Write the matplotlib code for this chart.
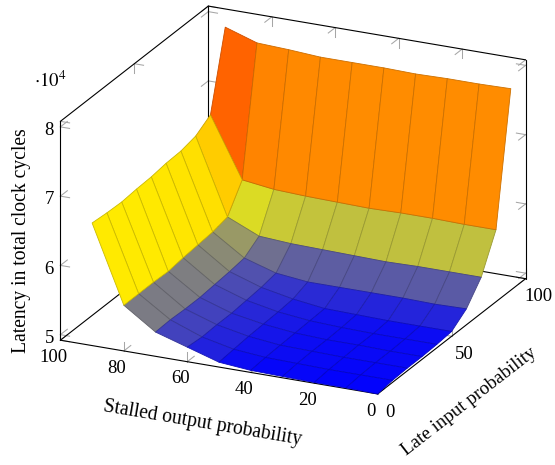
import numpy as np
import matplotlib
matplotlib.use("Agg")
import matplotlib.pyplot as plt
from matplotlib.colors import LinearSegmentedColormap, Normalize
from mpl_toolkits.mplot3d import proj3d

plt.rcParams['font.family'] = ['Liberation Serif', 'DejaVu Serif']
plt.rcParams['mathtext.fontset'] = 'stix'

stalled_output = [0, 10, 20, 30, 40, 50, 60, 70, 80, 90]
late_input = [0, 10, 20, 30, 40, 50, 60, 70, 80, 90]

# one row per late input probability, in units of 10^4 cycles
latency_y00 = [4.92, 4.93, 4.93, 4.94, 4.95, 4.99, 5.13, 5.27, 5.58, 6.69]
latency_y10 = [4.95, 4.95, 4.95, 4.96, 4.97, 5.01, 5.11, 5.28, 5.58, 6.67]
latency_y20 = [4.96, 4.96, 4.96, 4.97, 4.98, 5.03, 5.12, 5.27, 5.58, 6.66]
latency_y30 = [4.96, 4.96, 4.97, 4.97, 4.99, 5.04, 5.12, 5.27, 5.57, 6.68]
latency_y40 = [4.97, 4.97, 4.97, 4.98, 5.00, 5.05, 5.14, 5.29, 5.60, 6.69]
latency_y50 = [4.99, 4.99, 4.99, 5.00, 5.01, 5.07, 5.16, 5.31, 5.62, 6.72]
latency_y60 = [5.15, 5.14, 5.15, 5.15, 5.15, 5.15, 5.20, 5.34, 5.64, 6.73]
latency_y70 = [5.44, 5.44, 5.44, 5.43, 5.44, 5.45, 5.46, 5.49, 5.69, 6.78]
latency_y80 = [5.96, 5.96, 5.97, 5.97, 5.96, 5.97, 5.98, 6.00, 6.06, 6.92]
latency_y90 = [7.83, 7.82, 7.82, 7.81, 7.82, 7.82, 7.82, 7.85, 7.87, 8.02]

x_ticks = [0, 20, 40, 60, 80, 100]
y_ticks = [0, 50, 100]
z_ticks = [5, 6, 7, 8]

x_min, x_max = 0, 100
y_min, y_max = 0, 100
z_min, z_max = 4.92, 8.08

hot = LinearSegmentedColormap.from_list(
    'hot_pgf', [(0, 0, 1), (1, 1, 0), (1, 0.5, 0), (1, 0, 0)])

Z = np.array([latency_y00, latency_y10, latency_y20, latency_y30, latency_y40,
              latency_y50, latency_y60, latency_y70, latency_y80, latency_y90])
X, Y = np.meshgrid(stalled_output, late_input)

# facet colour comes from the mean of the four corners
norm = Normalize(Z.min(), Z.max())
cell_mean = (Z[:-1, :-1] + Z[1:, :-1] + Z[:-1, 1:] + Z[1:, 1:]) / 4
face = np.zeros(Z.shape + (4,))
face[:-1, :-1] = hot(norm(cell_mean))
edge = face[:-1, :-1].reshape(-1, 4).copy()
edge[:, :3] *= 0.8

fig = plt.figure(figsize=(5.55, 4.65), dpi=100)
ax = fig.add_axes([9.2 / 555, 26.2 / 465, 1, 1], projection='3d',
                  proj_type='ortho', computed_zorder=False)
ax.view_init(elev=21.3, azim=-65)
ax.set_box_aspect((1, 1, 0.671), zoom=1.144)
ax.set_axis_off()

surf = ax.plot_surface(X, Y, Z, facecolors=face, rstride=1, cstride=1,
                       shade=False, linewidth=0.6, antialiased=True, zorder=3)
surf.set_edgecolors(edge)

# box edges
box_lines = [
    ((x_max, x_min), (y_min, y_min), (z_min, z_min)),
    ((x_min, x_min), (y_min, y_max), (z_min, z_min)),
    ((x_max, x_max), (y_min, y_max), (z_min, z_min)),
    ((x_max, x_min), (y_max, y_max), (z_min, z_min)),
    ((x_max, x_max), (y_min, y_max), (z_max, z_max)),
    ((x_max, x_min), (y_max, y_max), (z_max, z_max)),
    ((x_max, x_max), (y_min, y_min), (z_min, z_max)),
    ((x_max, x_max), (y_max, y_max), (z_min, z_max)),
    ((x_min, x_min), (y_max, y_max), (z_min, z_max)),
]
for xs, ys, zs in box_lines:
    ax.plot(xs, ys, zs, color='black', lw=0.8, zorder=2, clip_on=False,
            solid_capstyle='round')

# gray ticks, two strokes at each place
tx, ty, tz = 2.9, 4.7, 0.135
tick_gray = '#a6a6a6'


def tick(x, y, z, dx, dy, dz):
    ax.plot((x, x + dx), (y, y + dy), (z, z + dz), color=tick_gray, lw=0.75,
            zorder=1, clip_on=False)


for v in x_ticks:
    tick(v, y_min, z_min, 0, ty, 0)
    tick(v, y_min, z_min, 0, 0, tz)
    tick(v, y_max, z_min, 0, -ty, 0)
    tick(v, y_max, z_min, 0, 0, tz)
    tick(v, y_max, z_max, 0, -ty, 0)
    tick(v, y_max, z_max, 0, 0, -tz)
for v in y_ticks:
    tick(x_max, v, z_min, -tx, 0, 0)
    tick(x_max, v, z_min, 0, 0, tz)
    tick(x_min, v, z_min, tx, 0, 0)
    tick(x_min, v, z_min, 0, 0, tz)
    tick(x_max, v, z_max, -tx, 0, 0)
    tick(x_max, v, z_max, 0, 0, -tz)
for v in z_ticks:
    tick(x_max, y_min, v, -tx, 0, 0)
    tick(x_max, y_min, v, 0, ty, 0)
    tick(x_max, y_max, v, -tx, 0, 0)
    tick(x_max, y_max, v, 0, -ty, 0)
    tick(x_min, y_max, v, tx, 0, 0)
    tick(x_min, y_max, v, 0, -ty, 0)

ax.set_xlim(x_max, x_min)
ax.set_ylim(y_min, y_max)
ax.set_zlim(z_min, z_max)

# tick labels sit just outside the box, placed through the 3d projection
fs = 13.5
proj = ax.get_proj()


def tick_label(x, y, z, s):
    px, py, _ = proj3d.proj_transform(x, y, z, proj)
    ax.text2D(px, py, s, transform=ax.transData, fontsize=fs, ha='center', va='center')


for v in x_ticks:
    tick_label(v, y_min - 4.7, z_min - 0.17, str(v))
for v in y_ticks:
    tick_label(x_min - 4, v, z_min - 0.23, str(v))
for v in z_ticks:
    tick_label(x_max + 3.5, y_min, v - 0.08, str(v))

fig.text(50 / 555, 1 - 81 / 465, r'$\cdot 10^{4}$', fontsize=fs, ha='center', va='center')
fig.text(22 / 555, 1 - 241 / 465, 'Latency in total clock cycles', fontsize=14.1,
         rotation=90, ha='center', va='center')
fig.text(203 / 555, 1 - 423 / 465, 'Stalled output probability', fontsize=14.1,
         rotation=-9.6, rotation_mode='anchor', ha='center', va='center')
fig.text(469 / 555, 1 - 402 / 465, 'Late input probability', fontsize=13.7,
         rotation=37.8, rotation_mode='anchor', ha='center', va='center')

fig.savefig('out.png', dpi=100)
